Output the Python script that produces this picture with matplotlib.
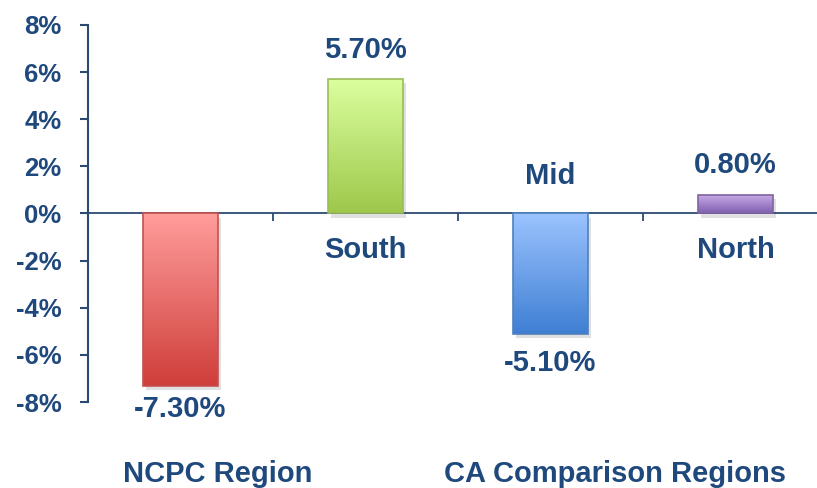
import numpy as np
import matplotlib
matplotlib.use("Agg")
import matplotlib.pyplot as plt
import matplotlib.patheffects as pe
from matplotlib.colors import LinearSegmentedColormap
from matplotlib.ticker import FuncFormatter

plt.rcParams['font.family'] = ['Liberation Sans', 'DejaVu Sans']

# data
regions = ["NCPC", "South", "Mid", "North"]
values = [-7.3, 5.7, -5.1, 0.8]
top_colors = ["#FF9D9B", "#DBFF9F", "#9BC3FF", "#CBADE9"]
bottom_colors = ["#CF3E3A", "#9DC84B", "#3F7FD3", "#7F5FB0"]
edge_colors = ["#C45050", "#9BBB59", "#4F81BD", "#8064A2"]
yticks = [-8, -6, -4, -2, 0, 2, 4, 6, 8]

txt = "#1F497D"
axcol = "#2B4A6F"
fs = 21

fig = plt.figure(figsize=(8.17, 4.88), dpi=100)
ax = fig.add_axes([88/817, 1-402/488, 740/817, 377/488])

x = np.arange(len(values))
bars = ax.bar(x, values, width=0.405, color="white", zorder=2,
              path_effects=[pe.SimplePatchShadow(offset=(2, -3), shadow_rgbFace="#999999", alpha=0.3),
                            pe.Normal()])

# gradient fill for each bar
grad = np.linspace(0, 1, 256).reshape(-1, 1)
for b, v, c1, c2, ec in zip(bars, values, top_colors, bottom_colors, edge_colors):
    cmap = LinearSegmentedColormap.from_list("g", [c1, c2])
    x0 = b.get_x()
    w = b.get_width()
    y_top = max(v, 0)
    y_bot = min(v, 0)
    im = ax.imshow(grad, cmap=cmap, aspect="auto", extent=[x0, x0 + w, y_bot, y_top],
                   origin="upper", zorder=3)
    im.set_clip_path(b)
    ax.bar(b.get_x() + w/2, v, width=w, fill=False, edgecolor=ec, linewidth=1.2, zorder=4)

ax.set_xlim(-0.5, 3.5)
ax.set_ylim(-8, 8)
ax.set_yticks(yticks)
ax.yaxis.set_major_formatter(FuncFormatter(lambda v, p: f"{v:.0f}%"))

# value labels
ax.annotate("-7.30%", (x[0], values[0]), xytext=(0, -17), textcoords="offset points",
            ha="center", va="center", fontsize=fs, fontweight="bold", color=txt)
ax.annotate("5.70%", (x[1], values[1]), xytext=(0, 21), textcoords="offset points",
            ha="center", va="center", fontsize=fs, fontweight="bold", color=txt)
ax.annotate("-5.10%", (x[2], values[2]), xytext=(0, -21), textcoords="offset points",
            ha="center", va="center", fontsize=fs, fontweight="bold", color=txt)
ax.annotate("0.80%", (x[3], values[3]), xytext=(0, 21), textcoords="offset points",
            ha="center", va="center", fontsize=fs, fontweight="bold", color=txt)

# region names
ax.annotate("South", (x[1], 0), xytext=(0, -26), textcoords="offset points",
            ha="center", va="center", fontsize=fs, fontweight="bold", color=txt)
ax.annotate("Mid", (x[2], 0), xytext=(0, 27), textcoords="offset points",
            ha="center", va="center", fontsize=fs, fontweight="bold", color=txt)
ax.annotate("North", (x[3], 0), xytext=(0, -26), textcoords="offset points",
            ha="center", va="center", fontsize=fs, fontweight="bold", color=txt)

fig.text(218/817, 1-474/488, "NCPC Region", ha="center", va="center",
         fontsize=fs, fontweight="bold", color=txt)
fig.text(615/817, 1-474/488, "CA Comparison Regions", ha="center", va="center",
         fontsize=fs, fontweight="bold", color=txt)

# axes styling
ax.spines['right'].set_color('none')
ax.spines['top'].set_color('none')
ax.spines['bottom'].set_position(('data', 0))
ax.spines['bottom'].set_color(axcol)
ax.spines['left'].set_color(axcol)
ax.spines['bottom'].set_linewidth(1.3)
ax.spines['left'].set_linewidth(1.5)
ax.set_xticks(x + 0.5)
ax.set_xticklabels([])
ax.tick_params(axis='x', direction='out', length=6, color=axcol, width=1.3)
ax.tick_params(axis='y', direction='out', length=6, color=axcol, width=1.5,
               labelsize=18.5, labelcolor=txt, pad=13)
for t in ax.get_yticklabels():
    t.set_fontweight("bold")

plt.savefig("out.png", dpi=100)
